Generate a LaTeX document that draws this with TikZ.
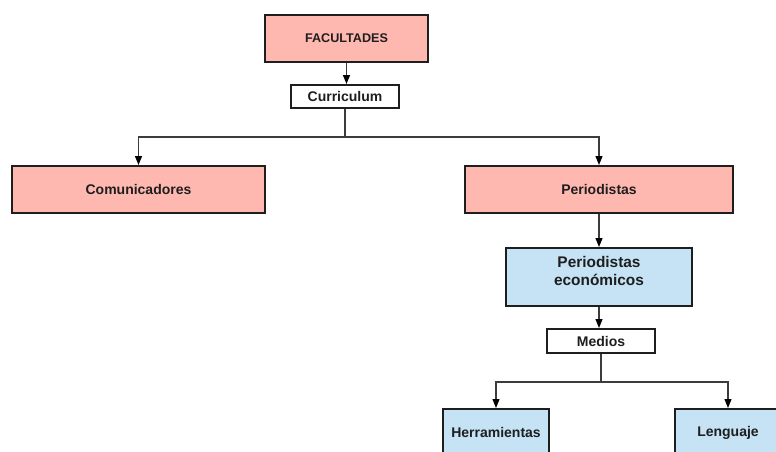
\documentclass[tikz,border=0pt]{standalone}
\usepackage{fontspec}
\setmainfont{Liberation Sans}
\usetikzlibrary{arrows.meta}
\definecolor{pinkfill}{RGB}{255,184,176}
\definecolor{bluefill}{RGB}{197,227,245}
\definecolor{ink}{RGB}{30,30,30}
\definecolor{wire}{RGB}{60,60,60}
\tikzset{
  box/.style={draw=ink, line width=2pt, inner sep=0pt, align=center, text=ink,
    font=\bfseries\fontsize{14}{16}\selectfont},
  pinkbox/.style={box, fill=pinkfill},
  bluebox/.style={box, fill=bluefill},
  whitebox/.style={box, fill=white},
  conn/.style={draw=wire, line width=1.2pt},
  arr/.style={conn, -{Triangle[length=9pt,width=7pt,color=black]}}
}
\begin{document}
\begin{tikzpicture}[x=1pt,y=1pt]
\useasboundingbox (0,0) rectangle (776,-451);
\clip (0,0) rectangle (776,-451);
\node[pinkbox, minimum width=163pt, minimum height=47pt, font=\bfseries\fontsize{12.6}{14}\selectfont] (fac) at (346.5,-38.5) {FACULTADES};
\node[whitebox, minimum width=108pt, minimum height=23pt] (cur) at (345,-96.5) {Curriculum};
\node[pinkbox, minimum width=253pt, minimum height=47pt] (com) at (138.5,-189.5) {Comunicadores};
\node[pinkbox, minimum width=268pt, minimum height=47pt] (per) at (599,-189.5) {Periodistas};
\node[bluebox, minimum width=186pt, minimum height=58pt, text depth=12pt, font=\bfseries\fontsize{15.4}{17.7}\selectfont] (pe) at (599,-277) {Periodistas\\económicos};
\node[whitebox, minimum width=108pt, minimum height=24pt] (med) at (601,-341) {Medios};
\node[bluebox, minimum width=106pt, minimum height=47pt] (her) at (496,-432.5) {Herramientas};
\node[bluebox, minimum width=106pt, minimum height=47pt] (len) at (728,-432.5) {Lenguaje};
\coordinate (j1) at (345,-137);
\coordinate (j2) at (601,-382);
\draw[arr] (fac.south) -- (fac.south |- cur.north);
\draw[conn] (cur.south) -- (j1);
\draw[arr] (j1) -| (com.north);
\draw[arr] (j1) -| (per.north);
\draw[arr] (per.south) -- (pe.north);
\draw[arr] (pe.south) -- (pe.south |- med.north);
\draw[conn] (med.south) -- (j2);
\draw[arr] (j2) -| (her.north);
\draw[arr] (j2) -| (len.north);
\end{tikzpicture}
\end{document}
